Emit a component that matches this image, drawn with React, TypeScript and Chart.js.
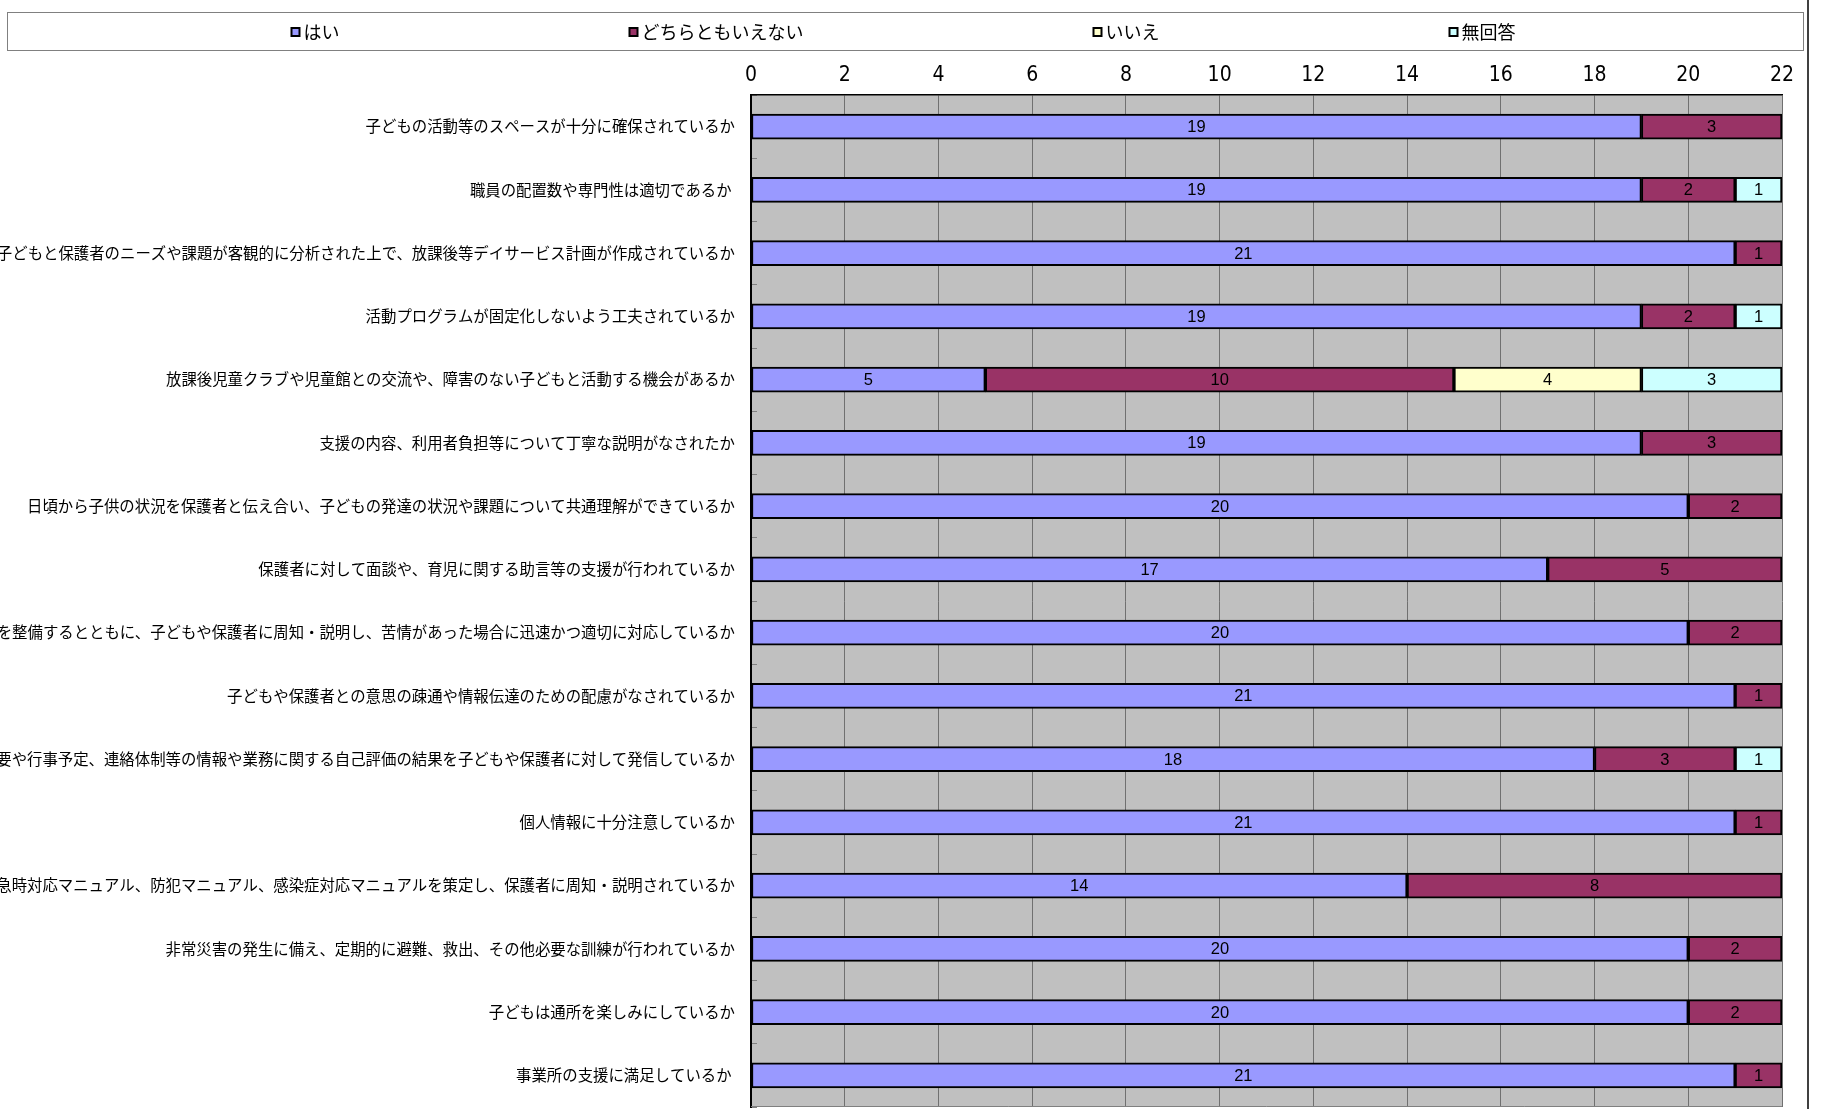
import React, { useEffect, useRef } from 'react';
import { Chart, registerables } from 'chart.js';

Chart.register(...registerables);

const categories: string[] = [
  '子どもの活動等のスペースが十分に確保されているか',
  '職員の配置数や専門性は適切であるか ',
  '子どもと保護者のニーズや課題が客観的に分析された上で、放課後等デイサービス計画が作成されているか',
  '活動プログラムが固定化しないよう工夫されているか',
  '放課後児童クラブや児童館との交流や、障害のない子どもと活動する機会があるか',
  '支援の内容、利用者負担等について丁寧な説明がなされたか',
  '日頃から子供の状況を保護者と伝え合い、子どもの発達の状況や課題について共通理解ができているか',
  '保護者に対して面談や、育児に関する助言等の支援が行われているか',
  '子どもや保護者からの苦情について、対応の体制を整備するとともに、子どもや保護者に周知・説明し、苦情があった場合に迅速かつ適切に対応しているか',
  '子どもや保護者との意思の疎通や情報伝達のための配慮がなされているか',
  '定期的に会報やホームページ等で、活動概要や行事予定、連絡体制等の情報や業務に関する自己評価の結果を子どもや保護者に対して発信しているか',
  '個人情報に十分注意しているか',
  '緊急時対応マニュアル、防犯マニュアル、感染症対応マニュアルを策定し、保護者に周知・説明されているか',
  '非常災害の発生に備え、定期的に避難、救出、その他必要な訓練が行われているか',
  '子どもは通所を楽しみにしているか',
  '事業所の支援に満足しているか ',
];

const yesValues: number[] = [19, 19, 21, 19, 5, 19, 20, 17, 20, 21, 18, 21, 14, 20, 20, 21];
const neitherValues: number[] = [3, 2, 1, 2, 10, 3, 2, 5, 2, 1, 3, 1, 8, 2, 2, 1];
const noValues: number[] = [0, 0, 0, 0, 4, 0, 0, 0, 0, 0, 0, 0, 0, 0, 0, 0];
const noAnswerValues: number[] = [0, 1, 0, 1, 3, 0, 0, 0, 0, 0, 1, 0, 0, 0, 0, 0];

const seriesNames: string[] = ['はい', 'どちらともいえない', 'いいえ', '無回答'];
const seriesColors: string[] = ['#9999FF', '#993366', '#FFFFCC', '#CCFFFF'];

const axisMin = 0;
const axisMax = 22;
const axisStep = 2;

const JP_FONT = "'Noto Sans CJK JP', 'Noto Sans', sans-serif";
const NUM_FONT = "'Liberation Sans Narrow', 'DejaVu Sans Condensed', 'Liberation Sans', sans-serif";

const framePlugin = {
  id: 'frameAndLegend',
  beforeDraw(chart: any) {
    const { ctx, chartArea } = chart;
    ctx.save();
    ctx.fillStyle = '#C0C0C0';
    ctx.fillRect(chartArea.left, chartArea.top, chartArea.right - chartArea.left, chartArea.bottom - chartArea.top);
    ctx.restore();
  },
  afterDraw(chart: any) {
    const { ctx, chartArea } = chart;
    ctx.save();
    // bottom frame of plot area
    ctx.strokeStyle = '#808080';
    ctx.lineWidth = 1;
    ctx.beginPath();
    ctx.moveTo(chartArea.left, chartArea.bottom - 0.5);
    ctx.lineTo(chartArea.right, chartArea.bottom - 0.5);
    ctx.stroke();

    // legend box
    const bx = 7, by = 12, bw = 1796, bh = 38;
    ctx.strokeStyle = '#808080';
    ctx.lineWidth = 1;
    ctx.strokeRect(bx + 0.5, by + 0.5, bw, bh);

    // legend items
    ctx.font = `18px ${JP_FONT}`;
    ctx.textBaseline = 'middle';
    ctx.textAlign = 'left';
    const box = 10;
    const gapBoxText = 3;
    const gapItems = 289;
    const datasets = chart.data.datasets;
    const widths = datasets.map((d: any) => box + gapBoxText + ctx.measureText(d.label).width);
    const total = widths.reduce((a: number, b: number) => a + b, 0) + gapItems * (datasets.length - 1);
    let x = bx + (bw - total) / 2 - 2;
    const cy = by + bh / 2 + 1;
    datasets.forEach((d: any, i: number) => {
      ctx.fillStyle = '#000';
      ctx.fillRect(x, cy - box / 2, box, box);
      ctx.fillStyle = d.backgroundColor;
      ctx.fillRect(x + 2, cy - box / 2 + 2, box - 4, box - 4);
      ctx.fillStyle = '#000';
      ctx.fillText(d.label, x + box + gapBoxText, cy);
      x += widths[i] + gapItems;
    });

    // outer right border
    ctx.strokeStyle = '#000';
    ctx.lineWidth = 1.5;
    ctx.beginPath();
    ctx.moveTo(1808, 0);
    ctx.lineTo(1808, chart.height);
    ctx.stroke();
    ctx.restore();
  },
};

const valueLabelPlugin = {
  id: 'valueLabels',
  afterDatasetsDraw(chart: any) {
    const { ctx } = chart;
    ctx.save();
    ctx.font = "16.5px 'Liberation Sans', sans-serif";
    ctx.fillStyle = '#000';
    ctx.textAlign = 'center';
    ctx.textBaseline = 'middle';
    chart.data.datasets.forEach((ds: any, di: number) => {
      const meta = chart.getDatasetMeta(di);
      meta.data.forEach((el: any, i: number) => {
        const v = ds.data[i];
        if (!v) return;
        const cx = (el.x + el.base) / 2;
        ctx.fillText(String(v), cx, el.y + 1);
      });
    });
    ctx.restore();
  },
};

export default function App() {
  const canvasRef = useRef<HTMLCanvasElement | null>(null);

  useEffect(() => {
    document.body.style.margin = '0';
    document.body.style.overflow = 'hidden';
    const canvas = canvasRef.current;
    if (!canvas) return;
    const seriesValues = [yesValues, neitherValues, noValues, noAnswerValues];
    const chart = new Chart(canvas, {
      type: 'bar',
      data: {
        labels: categories,
        datasets: seriesValues.map((vals, i) => ({
          label: seriesNames[i],
          data: vals,
          backgroundColor: seriesColors[i],
          borderColor: '#000000',
          borderWidth: 2,
          borderSkipped: false,
          barThickness: 25,
        })),
      },
      options: {
        indexAxis: 'y',
        animation: false,
        responsive: true,
        maintainAspectRatio: false,
        layout: { padding: { top: 55, right: 39, bottom: 2, left: 0 } },
        plugins: {
          legend: { display: false },
          tooltip: { enabled: false },
        },
        scales: {
          x: {
            type: 'linear',
            position: 'top',
            stacked: true,
            min: axisMin,
            max: axisMax,
            ticks: {
              stepSize: axisStep,
              color: '#000',
              padding: 7,
              font: { family: NUM_FONT, size: 21 },
            },
            grid: { color: '#707070', lineWidth: 1, drawTicks: false },
            border: { color: '#000', width: 1.5 },
            afterFit: (s: any) => {
              s.height = 40;
              s.paddingLeft = 0;
              s.paddingRight = 0;
            },
          },
          y: {
            type: 'category',
            stacked: true,
            ticks: {
              autoSkip: false,
              color: '#000',
              padding: 22,
              font: { family: JP_FONT, size: 15.4 },
            },
            grid: { drawOnChartArea: false, tickLength: -6, color: '#808080', offset: true },
            border: { color: '#000', width: 2 },
            afterFit: (s: any) => {
              s.width = 751;
              s.paddingTop = 0;
              s.paddingBottom = 0;
            },
          },
        },
      },
      plugins: [framePlugin, valueLabelPlugin],
    } as any);
    return () => chart.destroy();
  }, []);

  return (
    <div style={{ width: 1821, height: 1109, position: 'relative', background: '#fff' }}>
      <canvas ref={canvasRef} />
    </div>
  );
}
